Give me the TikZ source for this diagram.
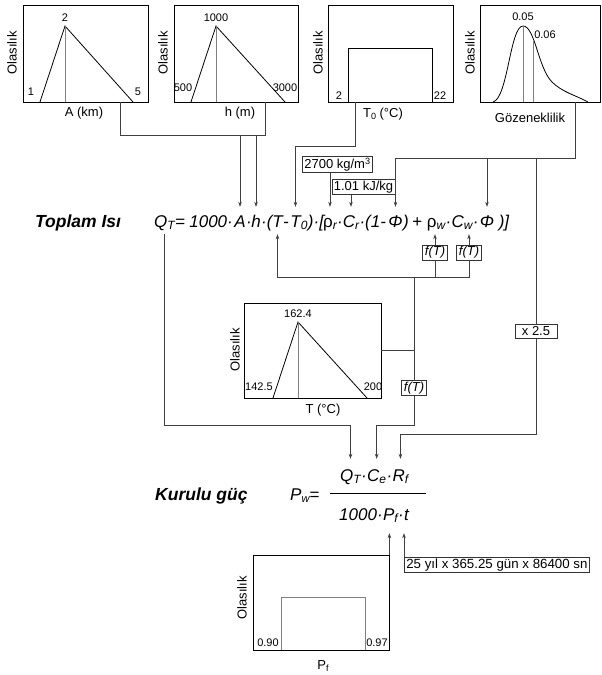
\documentclass[tikz,border=0pt]{standalone}
\usepackage{fontspec}
\setmainfont{Liberation Sans}
\usetikzlibrary{arrows.meta}
\newcommand\lsub[2][12]{\raisebox{-0.3ex}{\fontsize{#1}{#1}\selectfont #2}}
\begin{document}
\begin{tikzpicture}[x=1pt,y=-1pt,
  frame/.style={draw=black, line width=0.8pt, inner sep=0pt},
  conn/.style={draw=black!75, line width=0.7pt},
  arr/.style={conn, -{Stealth[length=5pt,width=3.6pt]}},
  markline/.style={draw=black!50, line width=1pt},
  curve/.style={draw=black, line width=0.8pt},
  ylab/.style={rotate=90, font=\fontsize{13}{13}\selectfont},
  xlab/.style={font=\fontsize{13}{13}\selectfont},
  vlab/.style={font=\fontsize{11}{11}\selectfont, inner sep=1pt},
  tagbox/.style={draw=black!80, line width=0.7pt, fill=white, inner xsep=2pt, inner ysep=1.5pt, font=\fontsize{13}{13}\selectfont},
  ftbox/.style={tagbox, inner xsep=2.5pt, font=\fontsize{13}{13}\selectfont\itshape},
  kpc/.style={anchor=base, inner xsep=0pt, inner ysep=7pt, text height=13pt, text depth=0pt, font=\fontsize{17}{17}\selectfont\itshape},
  fpc/.style={kpc, anchor=base west},
  npc/.style={anchor=base west, inner xsep=0pt, inner ysep=10pt, text height=12pt, text depth=0pt, font=\fontsize{17}{17}\selectfont\itshape},
  dpc/.style={anchor=base west, inner xsep=0pt, inner ysep=13pt, text height=12pt, text depth=0pt, font=\fontsize{17}{17}\selectfont\itshape},
  title/.style={anchor=base west, inner sep=0pt, font=\fontsize{17.5}{17.5}\selectfont\bfseries\itshape}
]
\useasboundingbox (0,0) rectangle (602,675);

% ---------- Box A ----------
\node[frame, minimum width=125pt, minimum height=97pt] (pA) at (85.5,53.5) {};
\draw[curve] (40,102) -- (65,26) -- (133,102);
\draw[markline] (65,26) -- (65,102);
\node[vlab] (lA2) at (65,18) {2};
\node[vlab] (lA1) at (31,92) {1};
\node[vlab] (lA5) at (138,92) {5};
\node[ylab] (yA) at (12,53) {Olasılık};
\node[xlab] (xA) at (84,113) {A (km)};
\coordinate (oA) at (120,102);

% ---------- Box h ----------
\node[frame, minimum width=124pt, minimum height=97pt] (ph) at (236,53.5) {};
\draw[curve] (191,102) -- (216,26) -- (285,102);
\draw[markline] (216,26) -- (216,102);
\node[vlab] (lh1) at (216,18) {1000};
\node[vlab] (lh2) at (183,88) {500};
\node[vlab] (lh3) at (285,88) {3000};
\node[ylab] (yh) at (163,53) {Olasılık};
\node[xlab] (xh) at (240,113) {h (m)};
\coordinate (oh) at (265,102);

% ---------- Box T0 ----------
\node[frame, minimum width=125pt, minimum height=97pt] (pT0) at (390.5,53.5) {};
\draw[curve] (348,102) -- (348,48) -- (432,48) -- (432,102);
\node[vlab] (lT01) at (339,96) {2};
\node[vlab] (lT02) at (440,96) {22};
\node[ylab] (yT0) at (318,53) {Olasılık};
\node[xlab] (xT0) at (383,114) {T\lsub[9]{0} (°C)};
\coordinate (oT0) at (355,102);

% ---------- Box porosity ----------
\node[frame, minimum width=120pt, minimum height=97pt] (pP) at (540,53.5) {};
\draw[curve] (493,102) .. controls (508,98) and (510,26) .. (523,26)
  .. controls (535,26) and (538,68) .. (552,82)
  .. controls (562,92) and (575,95) .. (588,102);
\draw[markline] (523,26) -- (523,102);
\draw[markline] (533,40) -- (533,102);
\node[vlab] (lP1) at (523,17) {0.05};
\node[vlab] (lP2) at (545,35) {0.06};
\node[ylab] (yP) at (470,53) {Olasılık};
\node[xlab] (xP) at (530,118) {Gözeneklilik};
\coordinate (oPhi) at (575,102);

% ---------- Main formula ----------
\node[title] (tq) at (35,227) {Toplam Isı};
\node[kpc] (fQ) at (164.5,227) {Q\lsub{T}};
\node[fpc] (f1) at (fQ.base east) {=\kern0.25em 1000·};
\node[kpc] (fA) at (240,227) {A};
\node[fpc] (f2) at (fA.base east) {·};
\node[kpc] (fh) at (256,227) {h};
\node[fpc] (f3) at (fh.base east) {·(};
\node[kpc] (fTa) at (277.5,227) {T};
\node[fpc] (f4) at (fTa.base east) {-};
\node[kpc] (fTb) at (299,227) {T\lsub{0}};
\node[fpc] (f5) at (fTb.base east) {)·[};
\node[kpc] (frho) at (330,227) {{\upshape ρ}\lsub{r}};
\node[fpc] (f6) at (frho.base east) {·};
\node[kpc] (fCr) at (351,227) {C\lsub{r}};
\node[fpc] (f7) at (fCr.base east) {·(1-};
\node[kpc] (fPa) at (395.5,227) {Φ};
\node[fpc] (f8) at (fPa.base east) {)\kern0.2em+\kern0.2em};
\node[kpc] (frw) at (436,227) {{\upshape ρ}\lsub{w}};
\node[fpc] (f9) at (frw.base east) {·};
\node[kpc] (fCw) at (462,227) {C\lsub{w}};
\node[fpc] (f10) at (fCw.base east) {·};
\node[kpc] (fPb) at (487,227) {Φ};
\node[fpc] (f11) at (fPb.base east) {\kern0.25em)]};
\coordinate (fTbT) at ([xshift=-3.5pt]fTb.north);

% levels
\coordinate (yAh) at (0,135);
\coordinate (yT0l) at (0,146);
\coordinate (yPl) at (0,158);
\coordinate (yTl) at (0,277);
\coordinate (yB) at (0,425);
\coordinate (yR) at (0,434);

% inputs from top
\draw[conn] (oA) -- (oA |- yAh) -- (oh |- yAh) -- (oh);
\draw[arr] (fA.north |- yAh) -- (fA.north);
\draw[arr] (fh.north |- yAh) -- (fh.north);
\draw[arr] (oT0) -- (oT0 |- yT0l) -| (fTbT);

\node[tagbox] (rho) at (337.5,164.5) {2700 kg/m\textsuperscript{3}};
\node[tagbox] (cr) at (363.5,187) {1.01 kJ/kg};
\draw[arr] (rho.south -| frho.north) -- (frho.north);
\draw[arr] (cr.south -| fCr.north) -- (fCr.north);

\draw[conn] (oPhi) -- (oPhi |- yPl) -- (fPa.north |- yPl);
\draw[arr] (fPa.north |- yPl) -- (fPa.north);
\draw[arr] (fPb.north |- yPl) -- (fPb.north);

% f(T) below
\node[ftbox] (ft1) at (435,252.5) {f(T)};
\node[ftbox] (ft2) at (469,252.5) {f(T)};
\draw[arr] (ft1.north) -- (ft1.north |- frw.south);
\draw[arr] (ft2.north) -- (ft2.north |- fCw.south);
\draw[conn] (ft1.south) -- (ft1.south |- yTl);
\draw[arr] (ft2.south) -- (ft2.south |- yTl) -- (fTa.south |- yTl) -- (fTa.south);

% ---------- T distribution ----------
\node[frame, minimum width=137pt, minimum height=95pt] (pT) at (312.5,350.5) {};
\draw[curve] (273,398) -- (298,322) -- (367,398);
\draw[markline] (298,322) -- (298,398);
\node[vlab] (lT1) at (298,314) {162.4};
\node[vlab] (lT2) at (259,387) {142.5};
\node[vlab] (lT3) at (373,387) {200};
\node[ylab] (yTT) at (235,350) {Olasılık};
\node[xlab] (xTT) at (323,410) {T (°C)};

\coordinate (tj) at (414,277);
\node[ftbox] (ft3) at (414,388) {f(T)};
\draw[conn] (tj) -- (ft3);
\draw[conn] (pT.east) -- (pT.east -| tj);

% x 2.5
\node[tagbox, inner xsep=7pt, inner ysep=2.5pt] (x25) at (536,331.5) {x 2.5};
\draw[conn] (x25 |- yPl) -- (x25);

% ---------- Power formula ----------
\node[title] (tk) at (155,500) {Kurulu güç};
\node[anchor=base west, inner sep=0pt, font=\fontsize{17}{17}\selectfont\itshape] (pw) at (290,500) {P\lsub[11]{w}=};
\node[npc] (nQ) at (340,481) {Q\lsub{T}};
\node[npc] (n1) at (nQ.base east) {·};
\node[npc] (nCe) at (n1.base east) {C\lsub{e}};
\node[npc] (n2) at (nCe.base east) {·};
\node[npc] (nRf) at (n2.base east) {R\lsub{f}};
\draw[line width=0.8pt] (330,493) -- (426,493);
\node[dpc] (d1) at (339,520) {1000·};
\node[dpc] (nPf) at (d1.base east) {P\lsub{f}};
\node[dpc] (d2) at (nPf.base east) {·};
\node[dpc] (nt) at (d2.base east) {t};

\draw[arr] (fQ.south) -- (fQ.south |- yB) -| (nQ.north);
\draw[arr] (ft3) -- (ft3 |- yB) -| (nCe.north);
\draw[arr] (x25.south) -- (x25.south |- yR) -| (nRf.north);

% ---------- Pf ----------
\node[frame, minimum width=136pt, minimum height=95pt] (pPf) at (321,602.5) {};
\draw[markline] (281,650) -- (281,597) -- (365,597) -- (365,650);
\node[vlab] (lPf1) at (268,643) {0.90};
\node[vlab] (lPf2) at (377,643) {0.97};
\node[ylab] (yPf) at (242,598) {Olasılık};
\node[xlab] (xPf) at (323,666) {P\lsub[9]{f}};

\node[tagbox, anchor=north west, font=\fontsize{13.3}{13.3}\selectfont] (tb) at (404,557) {25 yıl x 365.25 gün x 86400 sn};
\draw[arr] (pPf.north east) -- (pPf.north east |- nPf.south);
\draw[arr] (tb.north west) -- (tb.north west |- nt.south);
\end{tikzpicture}
\end{document}
